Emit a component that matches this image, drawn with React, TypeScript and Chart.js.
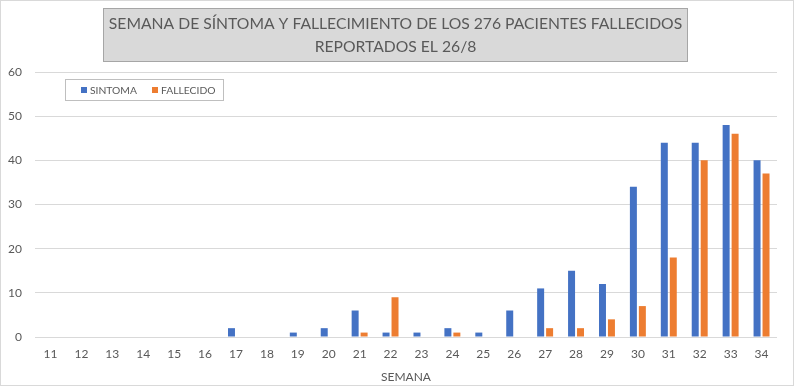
import React, { useEffect, useRef } from "react";
import { Chart, registerables } from "chart.js";

Chart.register(...registerables);

const weeks = ["11","12","13","14","15","16","17","18","19","20","21","22","23","24","25","26","27","28","29","30","31","32","33","34"];
const sintoma = [0,0,0,0,0,0,2,0,1,2,6,1,1,2,1,6,11,15,12,34,44,44,48,40];
const fallecido = [0,0,0,0,0,0,0,0,0,0,1,9,0,1,0,0,2,2,4,7,18,40,46,37];
const titleLines = ["SEMANA DE SÍNTOMA Y FALLECIMIENTO DE LOS 276 PACIENTES FALLECIDOS", "REPORTADOS EL 26/8"];
const legendLabels = ["SINTOMA", "FALLECIDO"];
const xTitle = "SEMANA";

const BLUE = "#4472C4";
const ORANGE = "#ED7D31";
const TEXT = "#595959";
const FONT = "Lato";

const decorPlugin = {
  id: "decor",
  beforeDraw(chart: any) {
    const ctx = chart.ctx;
    ctx.save();
    ctx.fillStyle = "#ffffff";
    ctx.fillRect(0, 0, chart.width, chart.height);
    ctx.restore();
  },
  afterDraw(chart: any) {
    const ctx = chart.ctx;
    ctx.save();
    // outer border
    ctx.strokeStyle = "#d9d9d9";
    ctx.lineWidth = 1;
    ctx.strokeRect(0.5, 0.5, chart.width - 1, chart.height - 1);
    // title box
    const bx = 103, by = 8, bw = 585, bh = 54;
    ctx.fillStyle = "#d9d9d9";
    ctx.fillRect(bx, by, bw, bh);
    ctx.strokeStyle = "#a6a6a6";
    ctx.strokeRect(bx + 0.5, by + 0.5, bw - 1, bh - 1);
    ctx.fillStyle = TEXT;
    ctx.textAlign = "center";
    ctx.textBaseline = "middle";
    let size = 20;
    ctx.font = `${size}px ${FONT}`;
    const w = ctx.measureText(titleLines[0]).width;
    const target = 574;
    size = size * target / w;
    ctx.font = `${size}px ${FONT}`;
    const cx = bx + bw / 2;
    ctx.fillText(titleLines[0], cx, 24);
    ctx.fillText(titleLines[1], cx, 47);
    // legend box
    const lx = 65, ly = 79, lw = 159, lh = 22;
    ctx.fillStyle = "#ffffff";
    ctx.fillRect(lx, ly, lw, lh);
    ctx.strokeStyle = "#bfbfbf";
    ctx.strokeRect(lx + 0.5, ly + 0.5, lw - 1, lh - 1);
    ctx.font = `11px ${FONT}`;
    const sw = ctx.measureText(legendLabels[0]).width;
    const lsize = 11 * 47 / sw;
    ctx.font = `${lsize}px ${FONT}`;
    ctx.textAlign = "left";
    ctx.textBaseline = "middle";
    const items = [
      { x: 81, color: BLUE, label: legendLabels[0] },
      { x: 152, color: ORANGE, label: legendLabels[1] },
    ];
    for (const it of items) {
      ctx.fillStyle = it.color;
      ctx.fillRect(it.x, 87, 6, 6);
      ctx.fillStyle = TEXT;
      ctx.fillText(it.label, it.x + 9, 90.5);
    }
    ctx.restore();
  },
};

export default function App() {
  const ref = useRef<HTMLCanvasElement>(null);
  useEffect(() => {
    document.body.style.margin = "0";
    const chart = new Chart(ref.current!, {
      type: "bar",
      data: {
        labels: weeks,
        datasets: [
          { label: legendLabels[0], data: sintoma, backgroundColor: BLUE, categoryPercentage: 0.58, barPercentage: 0.78 },
          { label: legendLabels[1], data: fallecido, backgroundColor: ORANGE, categoryPercentage: 0.58, barPercentage: 0.78 },
        ],
      },
      options: {
        animation: false,
        responsive: false,
        maintainAspectRatio: false,
        layout: { padding: { left: 0, top: 72, right: 17, bottom: 0 } },
        plugins: { legend: { display: false }, tooltip: { enabled: false }, title: { display: false } },
        scales: {
          x: {
            grid: { display: false, drawTicks: false },
            border: { display: false },
            ticks: { color: TEXT, font: { family: FONT, size: 12 }, padding: 10, maxRotation: 0, autoSkip: false },
            title: { display: true, text: xTitle, color: TEXT, font: { family: FONT, size: 12 }, padding: { top: 0, bottom: 2 } },
            afterFit(scale: any) { scale.height = 49; },
          },
          y: {
            min: 0,
            max: 60,
            ticks: { stepSize: 10, color: TEXT, font: { family: FONT, size: 12 }, padding: 13 },
            grid: { color: "#d9d9d9", drawTicks: false, tickLength: 0 },
            border: { display: false },
            afterFit(scale: any) { scale.width = 35; },
          },
        },
      },
      plugins: [decorPlugin],
    });
    return () => chart.destroy();
  }, []);
  return <canvas ref={ref} width={794} height={386} style={{ display: "block" }} />;
}
